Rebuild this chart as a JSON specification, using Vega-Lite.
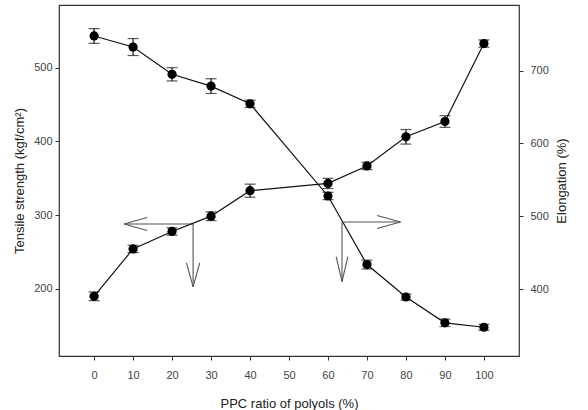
{
  "$schema": "https://vega.github.io/schema/vega-lite/v6.json",
  "width": 460,
  "height": 351,
  "autosize": {"type": "none"},
  "padding": {"left": 59, "top": 5, "right": 69, "bottom": 54},
  "config": {
    "view": {"stroke": "#333", "strokeWidth": 1.2},
    "font": "Liberation Sans",
    "axis": {
      "domain": false,
      "grid": false,
      "tickSize": 4,
      "tickColor": "#333",
      "labelColor": "#444",
      "labelFont": "Liberation Sans",
      "labelFontSize": 11,
      "titleFont": "Liberation Sans",
      "titleFontSize": 13,
      "titleFontWeight": "normal",
      "titleColor": "#222"
    }
  },
  "datasets": {
    "main": [
      {"ppc": 0, "ts": 543, "ts_err": 10, "el": 390, "el_err": 6},
      {"ppc": 10, "ts": 528, "ts_err": 11.5, "el": 455, "el_err": 5},
      {"ppc": 20, "ts": 491, "ts_err": 9, "el": 479, "el_err": 5},
      {"ppc": 30, "ts": 475, "ts_err": 10, "el": 500, "el_err": 6},
      {"ppc": 40, "ts": 451, "ts_err": 5, "el": 535, "el_err": 9},
      {"ppc": 60, "ts": 326, "ts_err": 5, "el": 545, "el_err": 7},
      {"ppc": 70, "ts": 233, "ts_err": 6, "el": 569, "el_err": 5},
      {"ppc": 80, "ts": 189, "ts_err": 4, "el": 609, "el_err": 10},
      {"ppc": 90, "ts": 154, "ts_err": 5, "el": 630, "el_err": 8},
      {"ppc": 100, "ts": 148, "ts_err": 4, "el": 737, "el_err": 5}
    ],
    "arrows": [
      {"x": 25.4, "x2": 7.7, "y": 288, "y2": 288},
      {"x": 7.7, "x2": 13.6, "y": 288, "y2": 296.8},
      {"x": 7.7, "x2": 13.6, "y": 288, "y2": 279.2},
      {"x": 25.4, "x2": 25.4, "y": 288, "y2": 202.7},
      {"x": 25.4, "x2": 23.7, "y": 202.7, "y2": 235.2},
      {"x": 25.4, "x2": 27.1, "y": 202.7, "y2": 235.2},
      {"x": 63.6, "x2": 78.6, "y": 290.8, "y2": 290.8},
      {"x": 78.6, "x2": 72.6, "y": 290.8, "y2": 299.6},
      {"x": 78.6, "x2": 72.6, "y": 290.8, "y2": 282},
      {"x": 63.6, "x2": 63.6, "y": 290.8, "y2": 209.9},
      {"x": 63.6, "x2": 62.1, "y": 209.9, "y2": 243.9},
      {"x": 63.6, "x2": 65.1, "y": 209.9, "y2": 243.9}
    ]
  },
  "layer": [
    {
      "data": {"name": "main"},
      "layer": [
        {
          "mark": {"type": "line", "color": "#111", "strokeWidth": 1.2},
          "encoding": {
            "x": {"field": "ppc", "type": "quantitative", "title": "PPC ratio of polyols (%)",
              "scale": {"domain": [-9, 109], "nice": false, "zero": false},
              "axis": {"values": [0,10,20,30,40,50,60,70,80,90,100], "labelPadding": 9, "titlePadding": 17}},
            "y": {"field": "ts", "type": "quantitative", "title": "Tensile strength (kgf/cm²)",
              "scale": {"domain": [109, 585], "nice": false, "zero": false},
              "axis": {"orient": "left", "values": [200,300,400,500], "labelPadding": 3, "titlePadding": 7}}
          }
        },
        {
          "mark": {"type": "errorbar", "ticks": {"size": 11, "color": "#111"}, "color": "#111", "thickness": 1.2},
          "encoding": {
            "x": {"field": "ppc", "type": "quantitative", "title": "PPC ratio of polyols (%)"},
            "y": {"field": "ts", "type": "quantitative", "title": "Tensile strength (kgf/cm²)"},
            "yError": {"field": "ts_err"}
          }
        },
        {
          "mark": {"type": "point", "filled": true, "color": "#000", "size": 85, "opacity": 1, "shape": "circle"},
          "encoding": {
            "x": {"field": "ppc", "type": "quantitative", "title": "PPC ratio of polyols (%)"},
            "y": {"field": "ts", "type": "quantitative", "title": "Tensile strength (kgf/cm²)"}
          }
        },
        {
          "data": {"name": "arrows"},
          "mark": {"type": "rule", "color": "#555", "strokeWidth": 1.1},
          "encoding": {
            "x": {"field": "x", "type": "quantitative", "title": "PPC ratio of polyols (%)"},
            "x2": {"field": "x2"},
            "y": {"field": "y", "type": "quantitative", "title": "Tensile strength (kgf/cm²)"},
            "y2": {"field": "y2"}
          }
        }
      ]
    },
    {
      "data": {"name": "main"},
      "layer": [
        {
          "mark": {"type": "line", "color": "#111", "strokeWidth": 1.2},
          "encoding": {
            "x": {"field": "ppc", "type": "quantitative", "title": "PPC ratio of polyols (%)"},
            "y": {"field": "el", "type": "quantitative", "title": "Elongation (%)",
              "scale": {"domain": [308, 790], "nice": false, "zero": false},
              "axis": {"orient": "right", "values": [400,500,600,700], "titleAngle": -90, "labelPadding": 7, "titlePadding": 20}}
          }
        },
        {
          "mark": {"type": "errorbar", "ticks": {"size": 11, "color": "#111"}, "color": "#111", "thickness": 1.2},
          "encoding": {
            "x": {"field": "ppc", "type": "quantitative", "title": "PPC ratio of polyols (%)"},
            "y": {"field": "el", "type": "quantitative", "title": "Elongation (%)"},
            "yError": {"field": "el_err"}
          }
        },
        {
          "mark": {"type": "point", "filled": true, "color": "#000", "size": 85, "opacity": 1, "shape": "circle"},
          "encoding": {
            "x": {"field": "ppc", "type": "quantitative", "title": "PPC ratio of polyols (%)"},
            "y": {"field": "el", "type": "quantitative", "title": "Elongation (%)"}
          }
        }
      ]
    }
  ],
  "resolve": {"scale": {"y": "independent"}}
}
